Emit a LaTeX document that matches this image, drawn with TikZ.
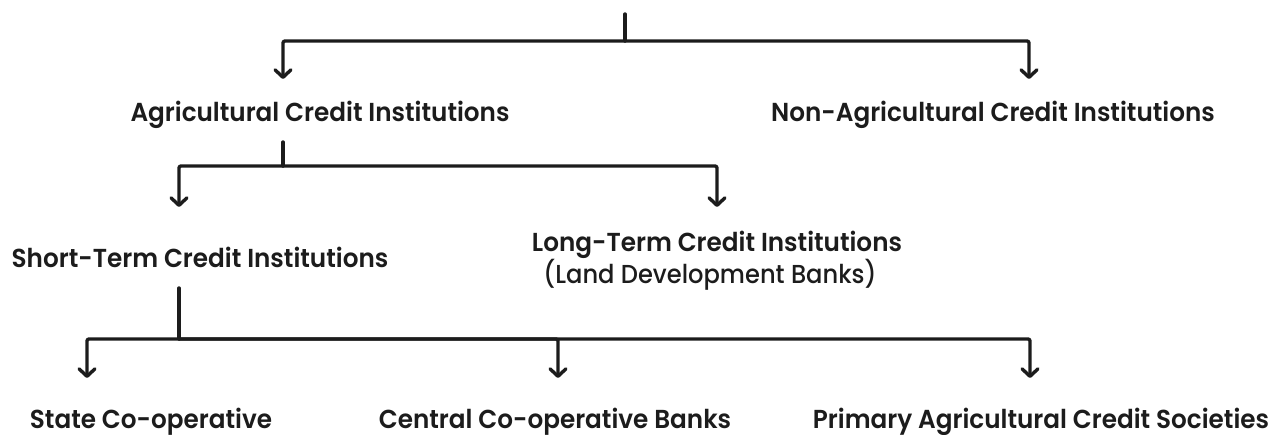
\documentclass[tikz,border=0pt]{standalone}
\usepackage{fontspec}
\usetikzlibrary{arrows.meta}
\newfontfamily\popfont{Poppins}[UprightFont=* SemiBold, FakeStretch=0.95]
\newfontfamily\popmed{Poppins}[UprightFont=* Medium, FakeStretch=0.93]
\definecolor{ink}{HTML}{1C1C1C}
\tikzset{
  lbl/.style={inner sep=0pt, anchor=base, text=ink, font=\popfont\fontsize{26}{32}\selectfont},
  sublbl/.style={lbl, font=\popmed\fontsize{26}{32}\selectfont},
  wire/.style={draw=ink, line width=3.4pt, line cap=round, line join=round, rounded corners=2pt},
  arr/.style={wire, -{Straight Barb[length=7.5pt, width=16pt, line cap=round, line join=round]}}
}
\begin{document}
\begin{tikzpicture}[x=1pt, y=-1pt]
\useasboundingbox[fill=white] (0,0) rectangle (1275,434);

% labels
\node[lbl] (ag)   at (320,121) {Agricultural Credit Institutions};
\node[lbl] (nag)  at (993,121) {Non-Agricultural Credit Institutions};
\node[lbl] (st)   at (200,267) {Short-Term Credit Institutions};
\node[lbl] (lt)   at (717,251) {Long-Term Credit Institutions};
\node[sublbl] (ltb)  at (710,283) {(Land Development Banks)};
\node[lbl] (sc)   at (151,428) {State Co-operative};
\node[lbl] (cc)   at (555,428) {Central Co-operative Banks};
\node[lbl] (pa)   at (1041,428) {Primary Agricultural Credit Societies};

% connector points
\coordinate (r0) at (625,14);
\coordinate (r1) at (625,41);
\coordinate (agT) at (283,79);
\coordinate (nagT) at (1029,79);

\coordinate (a0) at (283,142);
\coordinate (a1) at (283,166);
\coordinate (stT) at (179,207);
\coordinate (ltT) at (717,207);

\coordinate (s0) at (179,288);
\coordinate (s1) at (179,339);
\coordinate (scT) at (87,378);
\coordinate (ccT) at (558,378);
\coordinate (paT) at (1030,378);

% connectors
\draw[wire] (r0) -- (r1);
\draw[arr] (r1) -| (agT);
\draw[arr] (r1) -| (nagT);

\draw[wire] (a0) -- (a1);
\draw[arr] (a1) -| (stT);
\draw[arr] (a1) -| (ltT);

\draw[wire] (s0) -- (s1);
\draw[arr] (s1) -| (scT);
\draw[arr] (s1) -| (ccT);
\draw[arr] (s1) -| (paT);
\end{tikzpicture}
\end{document}
